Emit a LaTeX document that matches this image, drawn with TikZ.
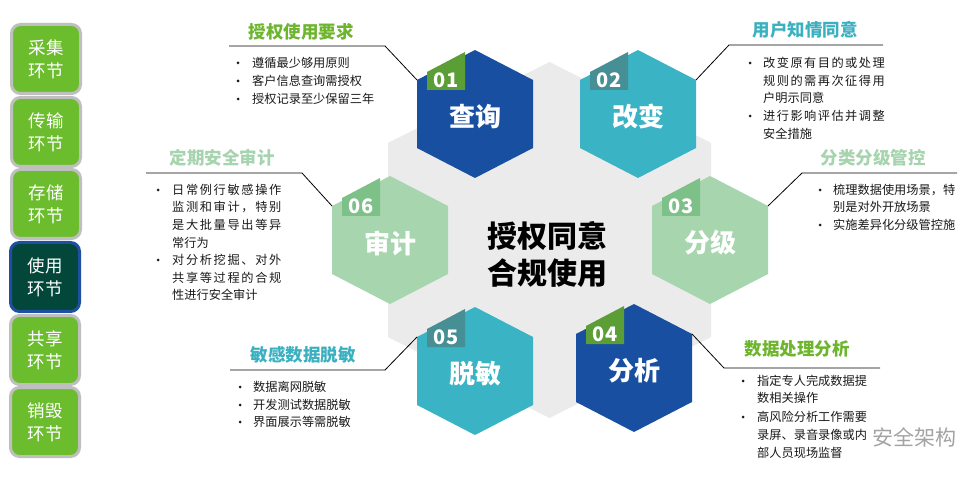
\documentclass[tikz,border=0pt]{standalone}
\usepackage{fontspec}
\setmainfont{Noto Sans CJK SC}
\usetikzlibrary{calc}
\definecolor{hexblue}{HTML}{184FA0}
\definecolor{hexteal}{HTML}{3AB3C4}
\definecolor{hexlg}{HTML}{A7D5AE}
\definecolor{tabgreen}{HTML}{5B9E36}
\definecolor{tabteal}{HTML}{468F95}
\definecolor{tablg}{HTML}{7DC088}
\definecolor{bggray}{HTML}{EBEBEB}
\definecolor{tgreen}{HTML}{6CB52D}
\definecolor{tteal}{HTML}{3BB0C0}
\definecolor{tlg}{HTML}{A6D4AE}
\definecolor{txt}{HTML}{1A1A1A}
\definecolor{sgreen}{HTML}{6CBD2E}
\definecolor{sborder}{HTML}{BFBFBF}
\definecolor{sdark}{HTML}{02473A}
\definecolor{sblue}{HTML}{1F4FA3}
\definecolor{wm}{HTML}{8C8C8C}
\tikzset{
 tabnum/.style={text=white, font=\fontsize{20}{20}\selectfont\bfseries, inner sep=0pt},
 hexlabel/.style={text=white, font=\fontsize{26}{26}\selectfont\bfseries, inner sep=0pt},
 ttl/.style={font=\fontsize{17.5}{18}\selectfont\bfseries, inner sep=0pt},
 itm/.style={font=\fontsize{12.2}{13}\selectfont, text=txt, inner sep=0pt, anchor=west},
 bulnode/.style={circle, fill=txt, inner sep=0pt, minimum size=3pt},
 lead/.style={draw=black, line width=0.8pt},
 sidebox/.style={rounded corners=9pt, fill=sgreen, draw=sborder, line width=3pt,
   minimum width=69pt, minimum height=69pt, text=white, align=center,
   font=\fontsize{17.5}{23}\selectfont, inner sep=0pt},
 sidedark/.style={sidebox, fill=sdark, draw=sblue},
}
\newcommand\hexcell[7]{%
 \begin{scope}[shift={(#2,#3)}]
  \coordinate (#1) at (0,0);
  \fill[#4] (0,-64) -- (58,-34) -- (58,34) -- (0,64) -- (-58,34) -- (-58,-34) -- cycle;
  \fill[#5] (-48,-42) -- (-10,-62) -- (-10,-24) -- (-48,-24) -- cycle;
  \node[tabnum] (#1n) at (-29,-34) {#6};
  \node[hexlabel] (#1l) at (0,3) {#7};
  \coordinate (#1ul) at (-58,-34);
  \coordinate (#1ur) at (58,-34);
 \end{scope}}
\newcommand\itmline[4]{\node[itm] (#1) at (#2,#3) {#4};}
\newcommand\bulat[3]{\node[bulnode] (#1) at (#2,#3) {};}
\newcommand\jsA[1]{{\addfontfeatures{LetterSpace=12}#1}}
\newcommand\jsB[1]{{\addfontfeatures{LetterSpace=13.5}#1}}
\begin{document}
\begin{tikzpicture}[x=1pt,y=-1pt]
\useasboundingbox (0,0) rectangle (961,478);
\fill[white] (0,0) rectangle (961,478);
% left sidebar
\node[sidebox] (s1) at (46,59) {采集\\环节};
\node[sidebox] (s2) at (46,132) {传输\\环节};
\node[sidebox] (s3) at (46,204) {存储\\环节};
\node[sidedark] (s4) at (45,277) {使用\\环节};
\node[sidebox] (s5) at (45,350) {共享\\环节};
\node[sidebox] (s6) at (45,422) {销毁\\环节};
% gray background hexagon
\fill[bggray] (549.5,62) -- (711,143) -- (711,337) -- (549.5,418) -- (388,337) -- (388,143) -- cycle;
% hexagons
\hexcell{h1}{475}{114}{hexblue}{tabgreen}{01}{查询}
\hexcell{h2}{638}{114}{hexteal}{tabteal}{02}{改变}
\hexcell{h3}{710}{240}{hexlg}{tablg}{03}{分级}
\hexcell{h4}{634}{368}{hexblue}{tabgreen}{04}{分析}
\hexcell{h5}{475}{371}{hexteal}{tabteal}{05}{脱敏}
\hexcell{h6}{390}{240}{hexlg}{tablg}{06}{审计}
% center text
\node[font=\fontsize{30}{37}\selectfont\bfseries, align=center, text=black, inner sep=0pt] (ctr) at (547,254) {授权同意\\合规使用};
% leader lines
\coordinate (l1a) at (385,46); \coordinate (l1b) at (229,46);
\coordinate (l2a) at (729,45); \coordinate (l2b) at (883,45);
\coordinate (l3a) at (802,173); \coordinate (l3b) at (957,173);
\coordinate (l6a) at (302,173); \coordinate (l6b) at (146,173);
\coordinate (l5a) at (385,370); \coordinate (l5b) at (230,370);
\coordinate (l4a) at (724,368); \coordinate (l4b) at (880,368);
\draw[lead] (h1ul) -- (l1a) -- (l1b);
\draw[lead] (h2ur) -- (l2a) -- (l2b);
\draw[lead] (h3ur) -- (l3a) -- (l3b);
\draw[lead] (h6ul) -- (l6a) -- (l6b);
\draw[lead] (h5ul) -- (l5a) -- (l5b);
\draw[lead] (h4ur) -- (l4a) -- (l4b);
% titles
\node[ttl, text=tgreen] (t1) at (301,32) {授权使用要求};
\node[ttl, text=tteal] (t2) at (805,30) {用户知情同意};
\node[ttl, text=tlg] (t3) at (873,158) {分类分级管控};
\node[ttl, text=tlg] (t6) at (222,158) {定期安全审计};
\node[ttl, text=tteal] (t5) at (303,355) {敏感数据脱敏};
\node[ttl, text=tgreen] (t4) at (797,349) {数据处理分析};
% list 01
\bulat{b1a}{238}{63}\bulat{b1b}{238}{81}\bulat{b1c}{238}{99}
\itmline{i1a}{252}{63}{遵循最少够用原则}
\itmline{i1b}{252}{81}{客户信息查询需授权}
\itmline{i1c}{252}{99}{授权记录至少保留三年}
% list 02
\bulat{b2a}{750}{63}\bulat{b2b}{750}{116}
\itmline{i2a}{763}{63}{\jsA{改变原有目的或处理}}
\itmline{i2b}{763}{81}{\jsA{规则的需再次征得用}}
\itmline{i2c}{763}{98}{户明示同意}
\itmline{i2d}{763}{116}{\jsA{进行影响评估并调整}}
\itmline{i2e}{763}{134}{安全措施}
% list 03
\bulat{b3a}{820}{190}\bulat{b3b}{820}{225}
\itmline{i3a}{833}{190}{梳理数据使用场景，特}
\itmline{i3b}{833}{207}{别是对外开放场景}
\itmline{i3c}{833}{225}{实施差异化分级管控施}
% list 06
\bulat{b6a}{158}{190}\bulat{b6b}{158}{260}
\itmline{i6a}{172}{190}{\jsB{日常例行敏感操作}}
\itmline{i6b}{172}{207}{\jsB{监测和审计，特别}}
\itmline{i6c}{172}{225}{\jsB{是大批量导出等异}}
\itmline{i6d}{172}{243}{常行为}
\itmline{i6e}{172}{260}{\jsB{对分析挖掘、对外}}
\itmline{i6f}{172}{278}{\jsB{共享等过程的合规}}
\itmline{i6g}{172}{295}{性进行安全审计}
% list 05
\bulat{b5a}{240}{387}\bulat{b5b}{240}{405}\bulat{b5c}{240}{422}
\itmline{i5a}{253}{387}{数据离网脱敏}
\itmline{i5b}{253}{405}{开发测试数据脱敏}
\itmline{i5c}{253}{422}{界面展示等需脱敏}
% list 04
\bulat{b4a}{743}{381}\bulat{b4b}{743}{417}
\itmline{i4a}{757}{381}{指定专人完成数据提}
\itmline{i4b}{757}{398}{数相关操作}
\itmline{i4c}{757}{417}{高风险分析工作需要}
\itmline{i4d}{757}{435}{录屏、录音录像或内}
\itmline{i4e}{757}{453}{部人员现场监督}
% watermark
\node[text=wm, opacity=0.8, font=\fontsize{21}{21}\selectfont, inner sep=0pt] (wmk) at (914,437) {安全架构};
\end{tikzpicture}
\end{document}
